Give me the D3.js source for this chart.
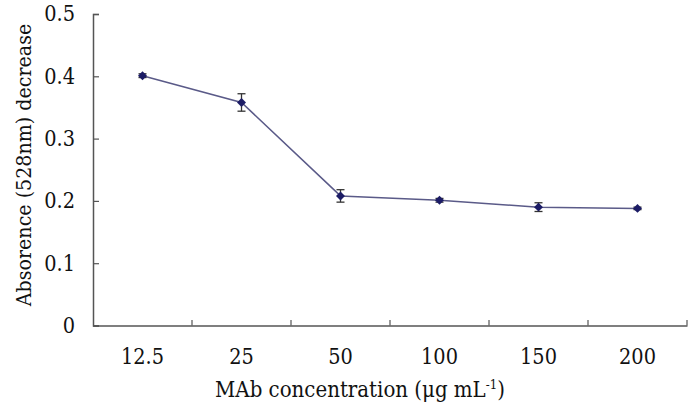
<!DOCTYPE html>
<html><head><meta charset="utf-8">
<script src="https://cdn.jsdelivr.net/npm/d3@7"></script>
<style>body{margin:0;background:#fff}svg{display:block}</style>
</head><body><svg id="c" width="694" height="408"></svg>
<script>
const categories = ["12.5","25","50","100","150","200"];
const values = [0.401, 0.358, 0.208, 0.201, 0.190, 0.188];
const errors = [0.003, 0.014, 0.010, 0.003, 0.007, 0.002];
const yTicks = [0, 0.1, 0.2, 0.3, 0.4, 0.5];

const FONT = "DejaVu Serif Condensed";
const STRETCH = "condensed";
const svg = d3.select("#c");
const L = 93, R = 687, T = 14, B = 325.5;
const x = d3.scaleBand().domain(categories).range([L, R]);
const y = d3.scaleLinear().domain([0, 0.5]).range([B, T]);
const axisColor = "#555";

function fontify(sel, size) {
  return sel.attr("font-family", FONT).style("font-stretch", STRETCH).attr("font-size", size);
}

// Y axis
const ya = svg.append("g").attr("transform", `translate(${L},0)`)
  .call(d3.axisLeft(y).tickValues(yTicks).tickSizeInner(-6).tickSizeOuter(-6).tickFormat(d => d === 0 ? "0" : d3.format(".1f")(d)).tickPadding(18));
fontify(ya, 21.5);
ya.select(".domain").attr("stroke", axisColor).attr("stroke-width", 1.5);
ya.selectAll(".tick line").attr("stroke", axisColor).attr("stroke-width", 1.2);
ya.selectAll(".tick text").attr("fill", "#111");

// X axis
const xa = svg.append("g").attr("transform", `translate(0,${B})`)
  .call(d3.axisBottom(x).tickSize(0).tickPadding(23));
fontify(xa, 21.5);
xa.select(".domain").attr("stroke", axisColor).attr("stroke-width", 1.5);
xa.selectAll(".tick line").remove();
xa.selectAll(".tick text").attr("fill", "#111");
// boundary ticks between categories (inward)
const bounds = categories.slice(1).map(c => x(c)).concat([x(categories[categories.length-1]) + x.bandwidth()]);
svg.append("g").selectAll("line").data(bounds).join("line")
  .attr("x1", d => d).attr("x2", d => d).attr("y1", B).attr("y2", B - 5.5)
  .attr("stroke", axisColor).attr("stroke-width", 1.2);

const cx = c => x(c) + x.bandwidth() / 2;
const pts = categories.map((c, i) => ({c, v: values[i], e: errors[i]}));

// line
svg.append("path").datum(pts)
  .attr("d", d3.line().x(d => cx(d.c)).y(d => y(d.v)))
  .attr("fill", "none").attr("stroke", "#5a5a88").attr("stroke-width", 1.5);

// error bars
const eb = svg.append("g").attr("stroke", "#333").attr("stroke-width", 1.3);
pts.forEach(d => {
  const X = cx(d.c), y1 = y(d.v + d.e), y2 = y(d.v - d.e);
  eb.append("line").attr("x1", X).attr("x2", X).attr("y1", y1).attr("y2", y2);
  eb.append("line").attr("x1", X - 4).attr("x2", X + 4).attr("y1", y1).attr("y2", y1);
  eb.append("line").attr("x1", X - 4).attr("x2", X + 4).attr("y1", y2).attr("y2", y2);
});

// markers (diamond = square rotated 45°)
svg.append("g").selectAll("path").data(pts).join("path")
  .attr("d", d3.symbol().type(d3.symbolSquare).size(40))
  .attr("transform", d => `translate(${cx(d.c)},${y(d.v)}) rotate(45)`)
  .attr("fill", "#1c1c66");

// axis titles
const xt = fontify(svg.append("text"), 22).attr("x", 360).attr("y", 397).attr("text-anchor", "middle").attr("fill", "#111");
xt.append("tspan").text("MAb concentration (μg mL");
xt.append("tspan").attr("dy", -8).attr("font-size", 13).text("-1");
xt.append("tspan").attr("dy", 8).text(")");

fontify(svg.append("text"), 21.2).attr("transform", "translate(31,165) rotate(-90)").attr("text-anchor", "middle")
  .attr("fill", "#111").text("Absorence (528nm) decrease");
</script></body></html>
